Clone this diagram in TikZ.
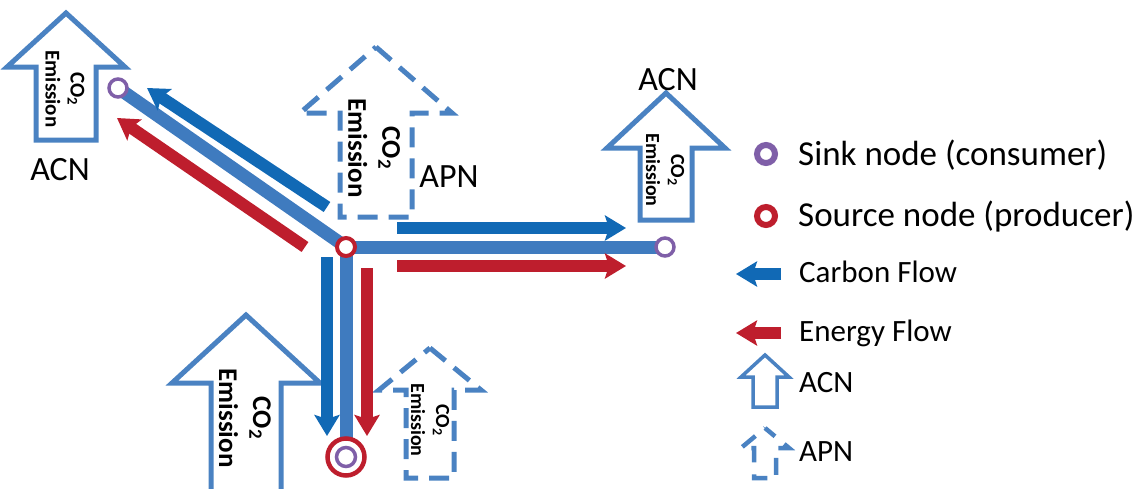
\documentclass[tikz,border=0pt]{standalone}
\usepackage{fontspec}
\setmainfont{Carlito}
\usepackage{xcolor}
\usepackage{tikz}
\usetikzlibrary{positioning,arrows.meta,backgrounds}
\definecolor{pipe}{HTML}{3F7BBF}
\definecolor{carbon}{HTML}{1169B5}
\definecolor{energy}{HTML}{BE1E2D}
\definecolor{sink}{HTML}{7F5FA8}
\definecolor{outline}{HTML}{4A82C2}

\begin{document}
\begin{tikzpicture}[x=1pt,y=-1pt,
     sinkn/.style={circle,draw=sink,line width=3.5pt,fill=white,minimum size=18pt,inner sep=0pt},
     srcn/.style={circle,draw=energy,line width=4pt,fill=white,minimum size=18pt,inner sep=0pt},
     pipeline/.style={pipe,line width=13pt},
     cflow/.style={carbon,line width=12pt,-{Stealth[length=21pt,width=25pt,inset=4pt]}},
     eflow/.style={energy,line width=12pt,-{Stealth[length=21pt,width=25pt,inset=4pt]}},
     acn/.style={outline,line width=5pt},
     apn/.style={outline,line width=5pt,dash pattern=on 20pt off 11pt},
     acnsm/.style={outline,line width=3.5pt},
     apnsm/.style={outline,line width=4.5pt,dash pattern=on 17pt off 12pt,dash phase=4pt},
     co/.style={align=center,rotate=-90,inner sep=0pt},
     lbl/.style={font=\fontsize{34}{40}\selectfont,inner sep=0pt},
     leg/.style={anchor=west,inner sep=0pt}]
    \useasboundingbox (0,0) rectangle (1140,488);
    \foreach \cx/\ty/\hy/\hw/\sw/\by/\st in {66/13/67/59/30/140/acn,376/47/113/76/36/217/apn,
        666/93/148/59/26/220/acn,246/315/383/74/35/494/acn,430/348/390/51/24/478/apn,
        765/355/377/24/12/407/acnsm,765/428/448/24/11/478/apnsm}
      {\draw[\st] (\cx,\ty)--(\cx+\hw,\hy)--(\cx+\sw,\hy)--(\cx+\sw,\by)--(\cx-\sw,\by)--(\cx-\sw,\hy)--(\cx-\hw,\hy)--cycle;}
    \node[co,font=\bfseries\fontsize{21}{25}\selectfont](e1) at (65,89){CO\textsubscript{2}\\Emission};
    \node[co,font=\bfseries\fontsize{27}{34}\selectfont](e2) at (374,148){CO\textsubscript{2}\\Emission};
    \node[co,font=\bfseries\fontsize{20}{25}\selectfont](e3) at (665,170){CO\textsubscript{2}\\Emission};
    \node[co,font=\bfseries\fontsize{27}{34}\selectfont](e4) at (245,418){CO\textsubscript{2}\\Emission};
    \node[co,font=\bfseries\fontsize{20}{25}\selectfont](e5) at (430,420){CO\textsubscript{2}\\Emission};
    \node[lbl](acn1) at (60,170){ACN}; \node[lbl](apn1) at (449,177){APN};
    \node[lbl](acn2) at (668,80){ACN};
    \node[sinkn](k1) at (118,88){}; \node[srcn](s0) at (346,247){};
    \node[sinkn](k2) at (665,247){};
    \node[srcn,minimum size=37pt,line width=4.5pt](s1) at (346,457){};
    \node[sinkn,minimum size=19pt](k3) at (346,457){};
    \begin{scope}[on background layer]
      \draw[pipeline](s0.center)--(k1.center); \draw[pipeline](s0.center)--(k2.center);
      \draw[pipeline](s0.center)--(s1.center);
    \end{scope}
    \coordinate(c1a) at (327,207); \coordinate(c1b) at (147,88);
    \coordinate(r1a) at (305,247); \coordinate(r1b) at (117,118);
    \coordinate(c2a) at (397,228); \coordinate(c2b) at (626,228);
    \coordinate(r2a) at (397,266); \coordinate(r2b) at (626,266);
    \coordinate(c3a) at (327,257); \coordinate(c3b) at (327,436);
    \coordinate(r3a) at (367,268); \coordinate(r3b) at (367,436);
    \draw[cflow](c1a)--(c1b); \draw[eflow](r1a)--(r1b);
    \draw[cflow](c2a)--(c2b); \draw[eflow](r2a)--(r2b);
    \draw[cflow](c3a)--(c3b); \draw[eflow](r3a)--(r3b);
    \node[sinkn,line width=6pt](lk) at (766,154){};
    \node[leg,font=\fontsize{35}{42}\selectfont](lkt) at (798,155){Sink node (consumer)};
    \node[srcn,line width=6pt](ls) at (766,216){};
    \node[leg,font=\fontsize{35}{42}\selectfont](lst) at (798,217){Source node (producer)};
    \coordinate(lc1) at (781,274); \coordinate(lc2) at (736,274);
    \draw[cflow](lc1)--(lc2);
    \node[leg,font=\fontsize{31}{37}\selectfont](lct) at (799,272){Carbon Flow};
    \coordinate(le1) at (781,333); \coordinate(le2) at (736,333);
    \draw[eflow](le1)--(le2);
    \node[leg,font=\fontsize{31}{37}\selectfont](let) at (799,333){Energy Flow};
    \node[leg,font=\fontsize{31}{37}\selectfont](lat) at (799,383){ACN};
    \node[leg,font=\fontsize{31}{37}\selectfont](lpt) at (799,452){APN};
  \end{tikzpicture}
\end{document}
